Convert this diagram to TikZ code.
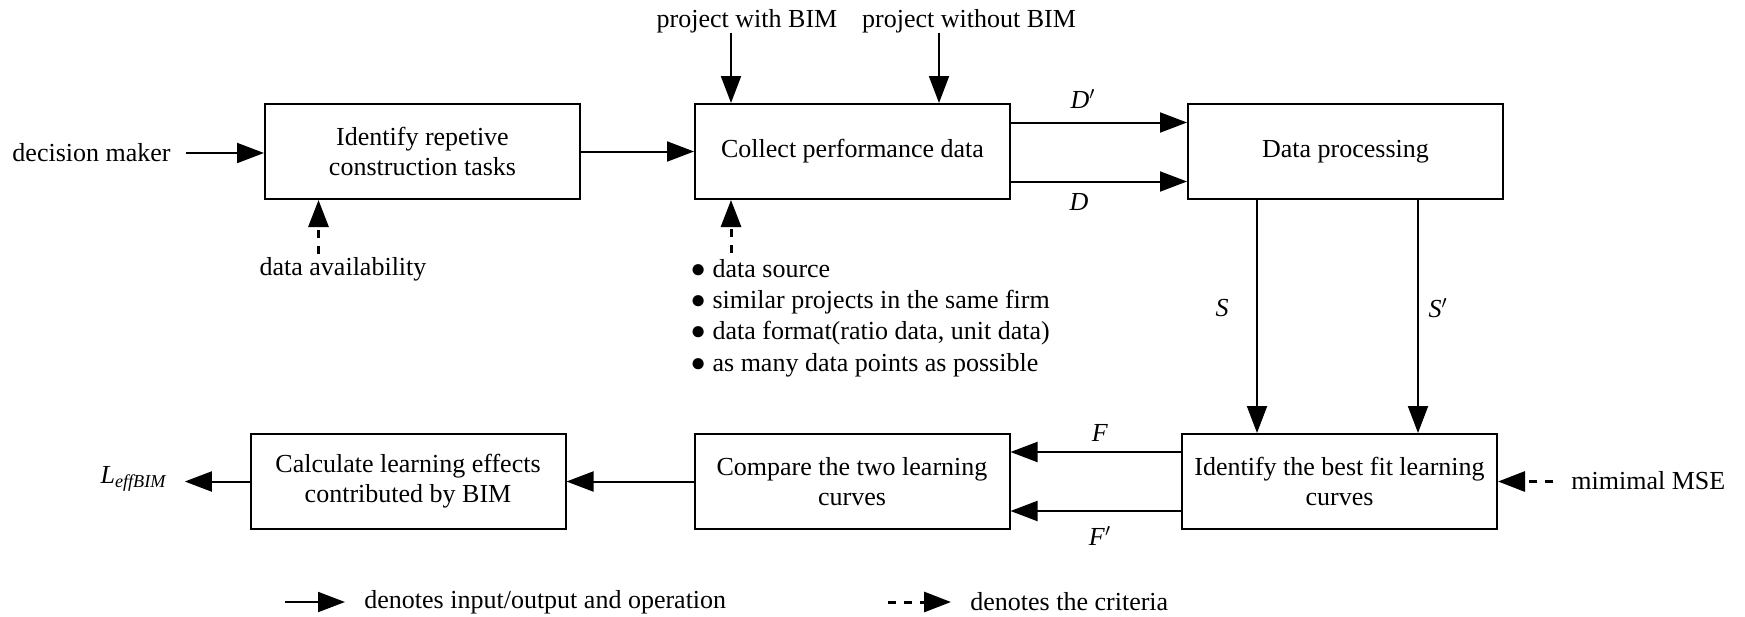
\documentclass[tikz,border=0pt]{standalone}
\usepackage{fontspec}
\setmainfont{Liberation Serif}
\usetikzlibrary{arrows.meta}

\begin{document}
\begin{tikzpicture}[x=0.5pt, y=-0.5pt,
    font=\fontsize{13}{15}\selectfont,
    >={Triangle[length=13.5pt,width=10pt]},
    task/.style={draw, line width=1pt, minimum width=157.5pt, minimum height=47.5pt, align=center, inner sep=0pt},
    flow/.style={->, line width=1pt},
    crit/.style={->, line width=1.5pt, dash pattern=on 4pt off 4pt},
    txt/.style={inner sep=0pt}]
  \useasboundingbox (0,0) rectangle (1745,616);

  \node[task] (identify) at (422.5,151.5) {Identify repetive\\construction tasks};
  \node[task] (collect) at (852.5,151.5) {Collect performance data};
  \node[task] (process) at (1345.5,151.5) {Data processing};
  \node[task] (bestfit) at (1339.5,481.5) {Identify the best fit learning\\curves};
  \node[task] (compare) at (852,481.5) {Compare the two learning\\curves};
  \node[task] (calc) at (408,481.5) {Calculate learning effects\\contributed by BIM};

  \node[txt, anchor=east] (maker) at (171,153) {decision maker};
  \draw[flow, shorten <=7.5pt] (maker.east) -- (maker.east -| identify.west);
  \draw[flow] (identify) -- (collect);

  \node[txt] (withbim) at (747,21) {project with BIM};
  \node[txt] (withoutbim) at (969,21) {project without BIM};
  \coordinate (withIn) at ([xshift=18.5pt]collect.north west);
  \coordinate (withoutIn) at ([xshift=122.5pt]collect.north west);
  \draw[flow] (withbim.south -| withIn) -- (withIn);
  \draw[flow] (withoutbim.south -| withoutIn) -- (withoutIn);

  \node[txt] (avail) at (343,269) {data availability};
  \coordinate (availIn) at ([xshift=27.25pt]identify.south west);
  \draw[crit, shorten <=1.5pt] (avail.north -| availIn) -- (availIn);

  \node[txt, anchor=north west, align=left, font=\fontsize{13}{15.6}\selectfont] (sources) at (690,259)
    {● data source\\● similar projects in the same firm\\● data format(ratio data, unit data)\\● as many data points as possible};
  \coordinate (srcIn) at ([xshift=18.5pt]collect.south west);
  \draw[crit, shorten <=3pt] (sources.north -| srcIn) -- (srcIn);

  \draw[flow] ([yshift=14.5pt]collect.east) -- ([yshift=14.5pt]collect.east -| process.west);
  \draw[flow] ([yshift=-15pt]collect.east) -- ([yshift=-15pt]collect.east -| process.west);
  \node[txt] (dprime) at (1083,99) {\textit{D}$'$};
  \node[txt] (d) at (1079,202) {\textit{D}};

  \coordinate (sOut) at ([xshift=35pt]process.south west);
  \coordinate (sprimeOut) at ([xshift=115.5pt]process.south west);
  \draw[flow] (sOut) -- (sOut |- bestfit.north);
  \draw[flow] (sprimeOut) -- (sprimeOut |- bestfit.north);
  \node[txt] (s) at (1222,308) {\textit{S}};
  \node[txt] (sprime) at (1438,308) {\textit{S}$'$};

  \draw[flow] ([yshift=14.75pt]bestfit.west) -- ([yshift=14.75pt]bestfit.west -| compare.east);
  \draw[flow] ([yshift=-14.75pt]bestfit.west) -- ([yshift=-14.75pt]bestfit.west -| compare.east);
  \node[txt] (f) at (1100,433) {\textit{F}};
  \node[txt] (fprime) at (1100,536) {\textit{F}$'$};

  \draw[flow] (compare) -- (calc);
  \node[txt] (leff) at (134,479) {\textit{L}\textsubscript{\textit{effBIM}}};
  \draw[flow, shorten >=8.5pt] (calc.west) -- (leff.east |- calc.west);

  \node[txt, anchor=west] (mse) at (1571,481) {mimimal MSE};
  \draw[crit, shorten <=9pt] (mse.west |- bestfit.east) -- (bestfit.east);

  \node[txt, anchor=west] (legflow) at (364,602) {denotes input/output and operation};
  \node[txt, anchor=west] (legcrit) at (970,602) {denotes the criteria};
  \coordinate (legflowStart) at (285,602);
  \coordinate (legcritStart) at (888,602);
  \draw[flow, shorten >=9.5pt] (legflowStart) -- (legflow.west);
  \draw[crit, shorten >=9.5pt] (legcritStart) -- (legcrit.west);
\end{tikzpicture}
\end{document}
